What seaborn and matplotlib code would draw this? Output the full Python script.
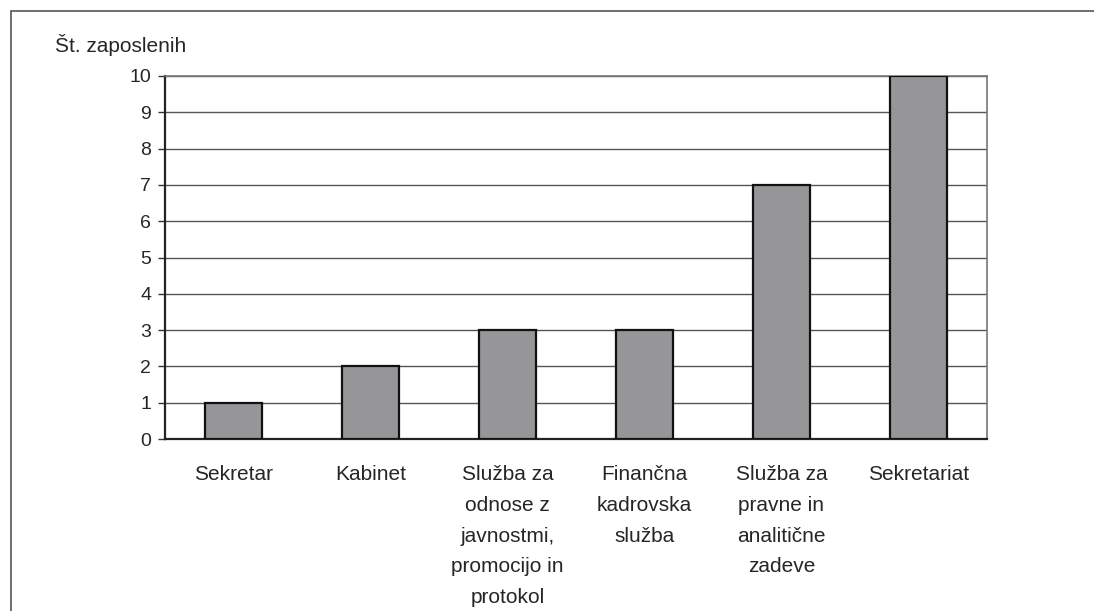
import matplotlib
matplotlib.use("Agg")
import matplotlib.pyplot as plt
import seaborn as sns
import pandas as pd
from matplotlib.patches import Rectangle
from matplotlib.ticker import FixedLocator

categories = ["Sekretar", "Kabinet",
              "Služba za\nodnose z\njavnostmi,\npromocijo in\nprotokol",
              "Finančna\nkadrovska\nslužba",
              "Služba za\npravne in\nanalitične\nzadeve",
              "Sekretariat"]
values = [1, 2, 3, 3, 7, 10]
y_ticks = list(range(0, 11))
y_title = "Št. zaposlenih"

sns.set_style("white")
plt.rcParams['font.family'] = ['Liberation Sans', 'DejaVu Sans']

W, H = 1094, 611
fig = plt.figure(figsize=(W / 100, H / 100), dpi=100)
ax = fig.add_axes([165 / W, 1 - 439 / H, (987 - 165) / W, (439 - 76) / H])

df = pd.DataFrame({"cat": categories, "val": values})
sns.barplot(data=df, x="cat", y="val", ax=ax, color="#969699",
            saturation=1, width=0.41, edgecolor="#111111", linewidth=1.6, zorder=3)

ax.set_xlim(-0.5, len(categories) - 0.5)
ax.set_ylim(0, 10)
ax.set_yticks(y_ticks)
ax.set_yticklabels([str(t) for t in y_ticks], fontsize=14)
ax.set_xlabel("")
ax.set_ylabel("")
ax.yaxis.grid(True, color="#555555", linewidth=1.0, zorder=0)
ax.set_axisbelow(True)

# x ticks between categories
ax.set_xticks(range(len(categories)))
ax.set_xticklabels(categories, fontsize=15, linespacing=1.78, va="top")
ax.tick_params(axis="x", length=0, pad=19)
ax.xaxis.set_minor_locator(FixedLocator([i - 0.5 for i in range(len(categories) + 1)]))
ax.tick_params(axis="x", which="minor", length=6, width=1, color="#333333", direction="out")
ax.tick_params(axis="y", length=5, width=1, color="#333333", direction="out", pad=5, left=True)

for side in ["left", "bottom"]:
    ax.spines[side].set_color("#222222")
    ax.spines[side].set_linewidth(1.6)
for side in ["top", "right"]:
    ax.spines[side].set_visible(True)
    ax.spines[side].set_color("#777777")
    ax.spines[side].set_linewidth(1.2)

fig.text(55 / W, 1 - 45 / H, y_title, fontsize=15, ha="left", va="center")

# outer border (cut off at right and bottom)
fig.patches.append(Rectangle((11 / W, -0.05), 1.1, 1 - 11 / H + 0.05,
                             transform=fig.transFigure, fill=False,
                             edgecolor="#555555", linewidth=1.2))

fig.savefig("out.png", dpi=100)
